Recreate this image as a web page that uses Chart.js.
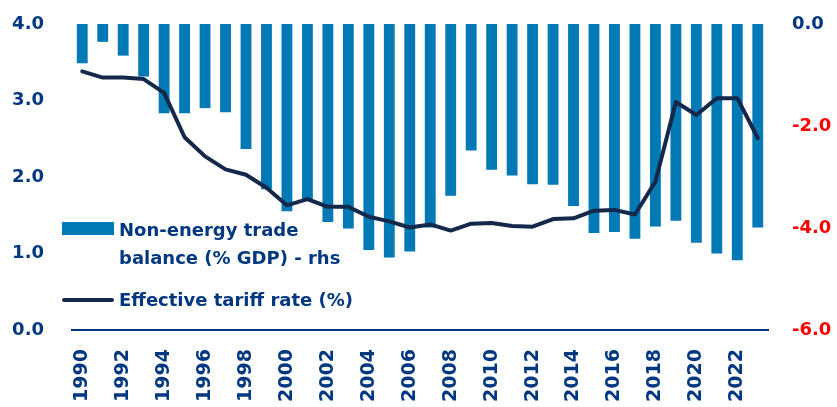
<!DOCTYPE html>
<html>
<head>
<meta charset="utf-8">
<script src="https://cdn.jsdelivr.net/npm/chart.js@4"></script>
<style>
  html, body { margin: 0; padding: 0; background: #fff; }
  #wrap { position: relative; width: 837px; height: 407px; }
  #legend { position: absolute; left: 62px; top: 216px; font-family: "DejaVu Sans", sans-serif; font-weight: bold; font-size: 18px; color: #003781; line-height: 28px; }
  .row { position: relative; padding-left: 57px; }
  .sw-bar { position: absolute; left: 0; top: 6px; width: 52px; height: 13px; background: #0079b4; }
  .sw-line { position: absolute; left: 0; top: 12px; width: 52px; height: 4px; background: #14284b; border-radius: 2px; }
</style>
</head>
<body>
<div id="wrap">
  <canvas id="c" width="837" height="407"></canvas>
  <div id="legend">
    <div class="row"><span class="sw-bar"></span>Non-energy trade<br>balance (% GDP) - rhs</div>
    <div class="row" style="margin-top:14px"><span class="sw-line"></span>Effective tariff rate (%)</div>
  </div>
</div>
<script>
const years = ['1990','1991','1992','1993','1994','1995','1996','1997','1998','1999',
  '2000','2001','2002','2003','2004','2005','2006','2007','2008','2009',
  '2010','2011','2012','2013','2014','2015','2016','2017','2018','2019',
  '2020','2021','2022','2023']

// Non-energy trade balance (% GDP), right axis
const tradeBalance = [-0.77,-0.35,-0.62,-1.03,-1.75,-1.75,-1.65,-1.73,-2.45,-3.24,
  -3.67,-3.47,-3.88,-4.01,-4.43,-4.58,-4.46,-3.99,-3.37,-2.48,
  -2.86,-2.97,-3.14,-3.15,-3.57,-4.10,-4.08,-4.21,-3.97,-3.86,
  -4.29,-4.50,-4.63,-3.99]

// Effective tariff rate (%), left axis
const tariffRate = [3.38,3.30,3.30,3.28,3.10,2.52,2.27,2.10,2.03,1.86,
  1.63,1.71,1.61,1.61,1.48,1.42,1.34,1.38,1.30,1.39,
  1.40,1.36,1.35,1.45,1.46,1.56,1.57,1.51,1.94,2.98,
  2.81,3.03,3.03,2.51]

const leftTicks = [0, 1, 2, 3, 4]
const rightTicks = [0, -2, -4, -6]

const NAVY = '#003781'
const RED = '#ff0000'
const FONT = 'DejaVu Sans'

// drop the automatic label overflow padding so the plot sits where the layout says
const noPad = s => { s.paddingTop = 0; s.paddingBottom = 0 }

new Chart(document.getElementById('c'), {
  data: {
    labels: years,
    datasets: [
      { type: 'line', label: 'Effective tariff rate (%)', data: tariffRate, yAxisID: 'yL',
        borderColor: '#14284b', borderWidth: 4, pointRadius: 0, tension: 0, order: 0,
        borderCapStyle: 'round', borderJoinStyle: 'round' },
      { type: 'bar', label: 'Non-energy trade balance (% GDP) - rhs', data: tradeBalance, yAxisID: 'yR',
        backgroundColor: '#0079b4', categoryPercentage: 1, barPercentage: 0.53, order: 1 }
    ]
  },
  options: {
    responsive: false,
    animation: false,
    layout: { autoPadding: false, padding: { top: 24, left: 0, right: 0, bottom: 0 } },
    plugins: { legend: { display: false }, tooltip: { enabled: false } },
    scales: {
      x: {
        grid: { display: false, drawTicks: false },
        border: { display: true, color: NAVY, width: 2 },
        ticks: { autoSkip: false, maxRotation: 90, minRotation: 90, padding: 19, color: NAVY,
          font: { family: FONT, size: 19, weight: 'bold' },
          callback: (v, i) => i % 2 === 0 ? years[i] : '' },
        afterFit: s => { s.height = 77; s.paddingLeft = 0; s.paddingRight = 0 }
      },
      yL: {
        position: 'left', min: 0, max: 4,
        grid: { display: false, drawTicks: false },
        border: { display: false },
        afterBuildTicks: s => { s.ticks = leftTicks.map(v => ({ value: v })) },
        ticks: { padding: 28, color: NAVY, font: { family: FONT, size: 18, weight: 'bold' },
          callback: v => v.toFixed(1) },
        afterFit: s => { s.width = 72; noPad(s) }
      },
      yR: {
        position: 'right', min: -6, max: 0,
        grid: { display: false, drawTicks: false },
        border: { display: false },
        afterBuildTicks: s => { s.ticks = rightTicks.map(v => ({ value: v })) },
        ticks: { padding: 24, font: { family: FONT, size: 18, weight: 'bold' },
          color: ctx => ctx.tick && ctx.tick.value === 0 ? NAVY : RED,
          callback: v => v.toFixed(1) },
        afterFit: s => { s.width = 69; noPad(s) }
      }
    }
  }
})
</script>
</body>
</html>
